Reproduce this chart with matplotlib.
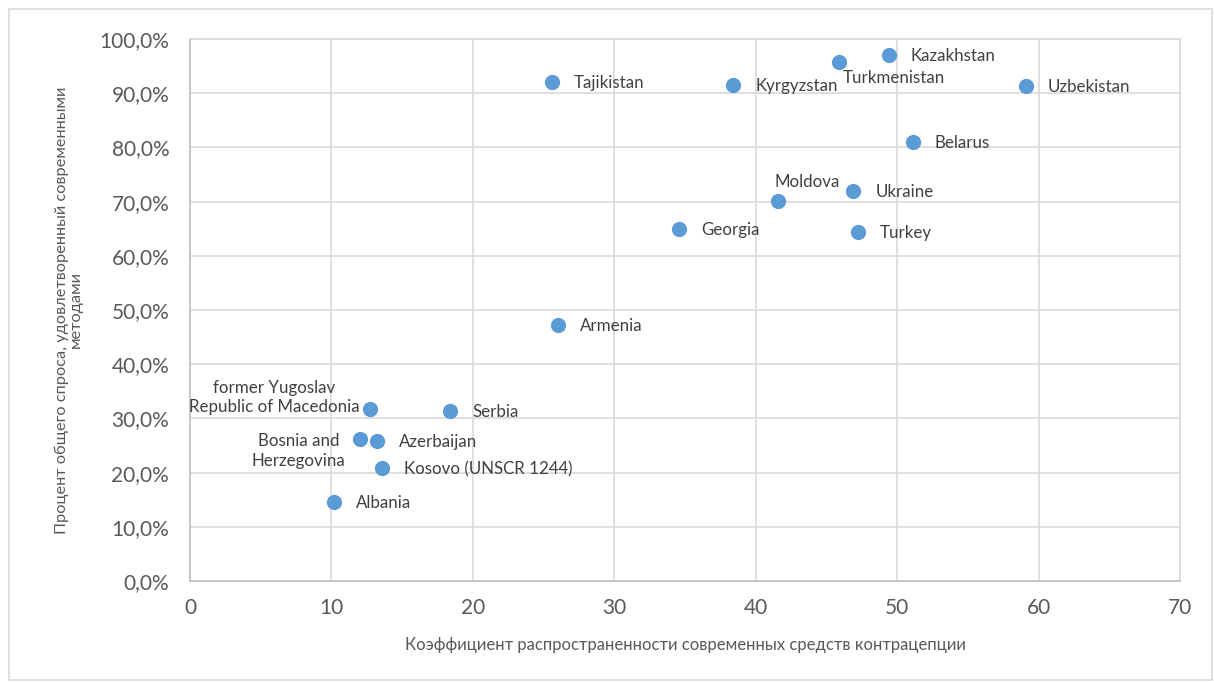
import matplotlib
matplotlib.use("Agg")
import matplotlib.pyplot as plt
from matplotlib.ticker import FuncFormatter, MultipleLocator
from matplotlib.patches import Rectangle

plt.rcParams['font.family'] = ['Lato', 'Noto Sans', 'DejaVu Sans']

# prevalence of modern contraception (%) and share of demand satisfied
countries = ["Tajikistan", "Kyrgyzstan", "Turkmenistan", "Kazakhstan", "Uzbekistan",
             "Belarus", "Ukraine", "Moldova", "Turkey", "Georgia", "Armenia", "Serbia",
             "former Yugoslav\nRepublic of Macedonia", "Bosnia and\nHerzegovina",
             "Azerbaijan", "Kosovo (UNSCR 1244)", "Albania"]
prevalence = [25.6, 38.4, 45.9, 49.4, 59.1, 51.1, 46.9, 41.6, 47.2, 34.6, 26.0, 18.4,
              12.7, 12.0, 13.2, 13.6, 10.2]
demand_satisfied = [0.921, 0.915, 0.958, 0.970, 0.913, 0.810, 0.720, 0.701, 0.644,
                    0.649, 0.472, 0.314, 0.317, 0.262, 0.258, 0.208, 0.146]

# label placement: (dx, dy) in pixels, horizontal alignment
label_pos = {
    "Turkmenistan": ((4, -16), "left"),
    "Moldova": ((-4, 19), "left"),
    "former Yugoslav\nRepublic of Macedonia": ((-10, 12), "right"),
    "Bosnia and\nHerzegovina": ((-14, -12), "right"),
}

fig = plt.figure(figsize=(12.14, 6.82), dpi=100)
ax = fig.add_axes([190 / 1214, 1 - 581 / 682, 990 / 1214, 542 / 682])

ax.scatter(prevalence, demand_satisfied, s=120, color="#5B9BD5", zorder=3, linewidths=0)

for name, x, y in zip(countries, prevalence, demand_satisfied):
    (dx, dy), ha = label_pos.get(name, ((22, -1), "left"))
    ax.annotate(name, (x, y), xytext=(dx, dy), textcoords="offset pixels",
                ha=ha, va="center", multialignment="center",
                fontsize=12.2, color="#404040", linespacing=1.25)

ax.set_xlim(0, 70)
ax.set_ylim(0, 1.0)
ax.xaxis.set_major_locator(MultipleLocator(10))
ax.yaxis.set_major_locator(MultipleLocator(0.1))
ax.yaxis.set_major_formatter(FuncFormatter(lambda v, p: f"{v * 100:.1f}%".replace(".", ",")))
ax.grid(True, color="#D9D9D9", linewidth=1.2, zorder=0)
ax.set_axisbelow(True)
for side in ["top", "right"]:
    ax.spines[side].set_color("#D9D9D9")
    ax.spines[side].set_linewidth(1.2)
for side in ["left", "bottom"]:
    ax.spines[side].set_color("#BFBFBF")
    ax.spines[side].set_linewidth(1.2)
ax.tick_params(length=0, labelsize=15, colors="#595959")
ax.tick_params(axis="y", pad=15)
ax.tick_params(axis="x", pad=12)

ax.set_xlabel("Коэффициент распространенности современных средств контрацепции",
              fontsize=12, color="#595959")
ax.set_ylabel("Процент общего спроса, удовлетворенный современными\nметодами",
              fontsize=11.8, color="#595959", linespacing=1.0)
ax.xaxis.set_label_coords(0.5, -0.103)
ax.yaxis.set_label_coords(-0.108, 0.5)

# chart area border
fig.patches.append(Rectangle((9 / 1214, 2 / 682), 1203 / 1214, 671 / 682,
                             transform=fig.transFigure, fill=False,
                             edgecolor="#D9D9D9", linewidth=1.2))

fig.savefig("out.png", dpi=100)
